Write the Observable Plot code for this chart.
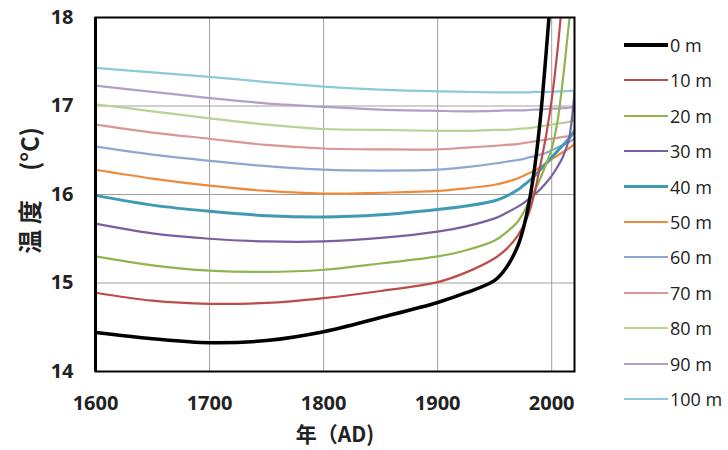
<!DOCTYPE html>
<html><head><meta charset="utf-8">
<script src="https://cdn.jsdelivr.net/npm/d3@7"></script>
<script src="https://cdn.jsdelivr.net/npm/@observablehq/plot@0.6"></script>
<style>
body{margin:0;background:#fff;}
#wrap{position:relative;width:728px;height:450px;}
#legend{position:absolute;left:624px;top:0;font-family:"Open Sans";font-size:18px;color:#222;}
.item{position:absolute;left:0;display:flex;align-items:center;white-space:nowrap;height:20px;}
.sw{width:44px;display:inline-block;margin-right:2px;}
</style></head><body><div id="wrap"><div id="legend"></div></div>
<script>
const years = [1600,1650,1700,1750,1800,1850,1900,1925,1950,1960,1970,1975,1980,1985,1990,1995,2000,2005,2010,2015,2020];
const depths = ["0 m","10 m","20 m","30 m","40 m","50 m","60 m","70 m","80 m","90 m","100 m"];
const t0   = [14.44,14.37,14.325,14.35,14.45,14.61,14.78,14.89,15.03,15.17,15.41,15.61,15.90,16.30,16.85,17.58,18.40,null,null,null,null];
const t10  = [14.89,14.80,14.765,14.775,14.83,14.91,15.01,15.12,15.28,15.38,15.53,15.64,15.79,16.02,16.33,16.66,17.07,17.62,18.30,null,null];
const t20  = [15.30,15.20,15.14,15.125,15.15,15.22,15.30,15.37,15.48,15.57,15.69,15.79,15.92,16.04,16.18,16.34,16.52,16.82,17.32,17.92,18.50];
const t30  = [15.67,15.56,15.50,15.47,15.47,15.51,15.58,15.64,15.73,15.79,15.86,15.90,15.95,16.00,16.06,16.13,16.21,16.31,16.43,16.62,17.15];
const t40  = [15.99,15.88,15.81,15.76,15.745,15.77,15.83,15.87,15.93,15.98,16.05,16.10,16.15,16.21,16.28,16.35,16.42,16.49,16.56,16.63,16.72];
const t50  = [16.28,16.18,16.10,16.04,16.01,16.02,16.04,16.07,16.11,16.14,16.18,16.21,16.24,16.27,16.31,16.35,16.40,16.44,16.48,16.52,16.57];
const t60  = [16.54,16.45,16.38,16.32,16.28,16.27,16.28,16.31,16.35,16.37,16.39,16.40,16.42,16.43,16.45,16.47,16.50,16.53,16.56,16.59,16.63];
const t70  = [16.79,16.70,16.63,16.56,16.52,16.51,16.51,16.53,16.55,16.56,16.57,16.58,16.59,16.60,16.61,16.62,16.63,16.64,16.65,16.66,16.68];
const t80  = [17.02,16.94,16.86,16.79,16.74,16.73,16.72,16.72,16.73,16.73,16.74,16.745,16.75,16.76,16.77,16.78,16.79,16.80,16.81,16.82,16.84];
const t90  = [17.23,17.16,17.09,17.03,16.99,16.96,16.945,16.94,16.945,16.95,16.95,16.95,16.955,16.96,16.96,16.965,16.97,16.97,16.975,16.98,16.99];
const t100 = [17.43,17.38,17.33,17.27,17.22,17.185,17.165,17.16,17.155,17.155,17.155,17.155,17.155,17.16,17.16,17.16,17.16,17.165,17.165,17.17,17.17];
const xTicks = [1600,1700,1800,1900,2000];
const yTicks = [14,15,16,17,18];
const xLabel = "年（AD)";
const yLabel = "温 度　 (°C)";

const values = [t0,t10,t20,t30,t40,t50,t60,t70,t80,t90,t100];
const colors = ["#000000","#BE4B48","#8FB550","#7A5FA0","#3E9BB2","#EE8A3C","#8EA6D2","#D99694","#B8D394","#B0A0C8","#8DC9DA"];
const widths = [3.5,2.2,2.2,2.2,3,2.2,2.2,2.2,2.2,2.2,2.2];

const rowsFor = i => years.map((yr,j)=>({depth:depths[i], year:yr, temp:values[i][j]})).filter(d=>d.temp!=null);

const lineMarks = depths.map((d,i)=>i).reverse().map(i =>
  Plot.line(rowsFor(i), {x:"year", y:"temp", stroke: colors[i], strokeWidth: widths[i], curve:"catmull-rom", clip:true})
);

const chart = Plot.plot({
  width:728, height:450,
  marginLeft:95, marginRight:154, marginTop:17, marginBottom:79,
  style:{fontFamily:"Open Sans", fontSize:"20px", fontWeight:700, color:"#222", background:"#fff"},
  x:{domain:[1600,2020]},
  y:{domain:[14,18]},
  marks:[
    Plot.gridX(xTicks, {stroke:"#a0a0a0", strokeOpacity:1, strokeWidth:1}),
    Plot.gridY(yTicks, {stroke:"#a0a0a0", strokeOpacity:1, strokeWidth:1}),
    ...lineMarks,
    Plot.frame({stroke:"#000", strokeWidth:2}),
    Plot.ruleX([1600], {stroke:"#000", strokeWidth:3}),
    Plot.axisX(xTicks, {tickSize:0, tickPadding:24, tickFormat:d=>String(d), label:null}),
    Plot.axisY(yTicks, {tickSize:0, tickPadding:22, tickFormat:d=>String(d), label:null}),
    Plot.text([xLabel], {frameAnchor:"bottom", dy:64, lineAnchor:"middle", fontSize:21, fontWeight:700, fontFamily:"'Noto Sans CJK SC','Open Sans'"}),
    Plot.text([yLabel], {frameAnchor:"left", dx:-64, dy:-4, rotate:-90, textAnchor:"middle", lineAnchor:"middle", fontSize:24, fontWeight:700, fontFamily:"'Noto Sans CJK SC','Open Sans'"})
  ]
});
document.getElementById("wrap").prepend(chart);

const legend = document.getElementById("legend");
depths.forEach((d,i)=>{
  const it = document.createElement("div");
  it.className="item";
  it.style.top = (45 + i*35.4 - 10) + "px";
  const sw = document.createElement("span");
  sw.className="sw";
  sw.style.height = widths[i]+"px";
  sw.style.background = colors[i];
  it.appendChild(sw);
  const tx = document.createElement("span");
  tx.textContent = d;
  it.appendChild(tx);
  legend.appendChild(it);
});
</script></body></html>
